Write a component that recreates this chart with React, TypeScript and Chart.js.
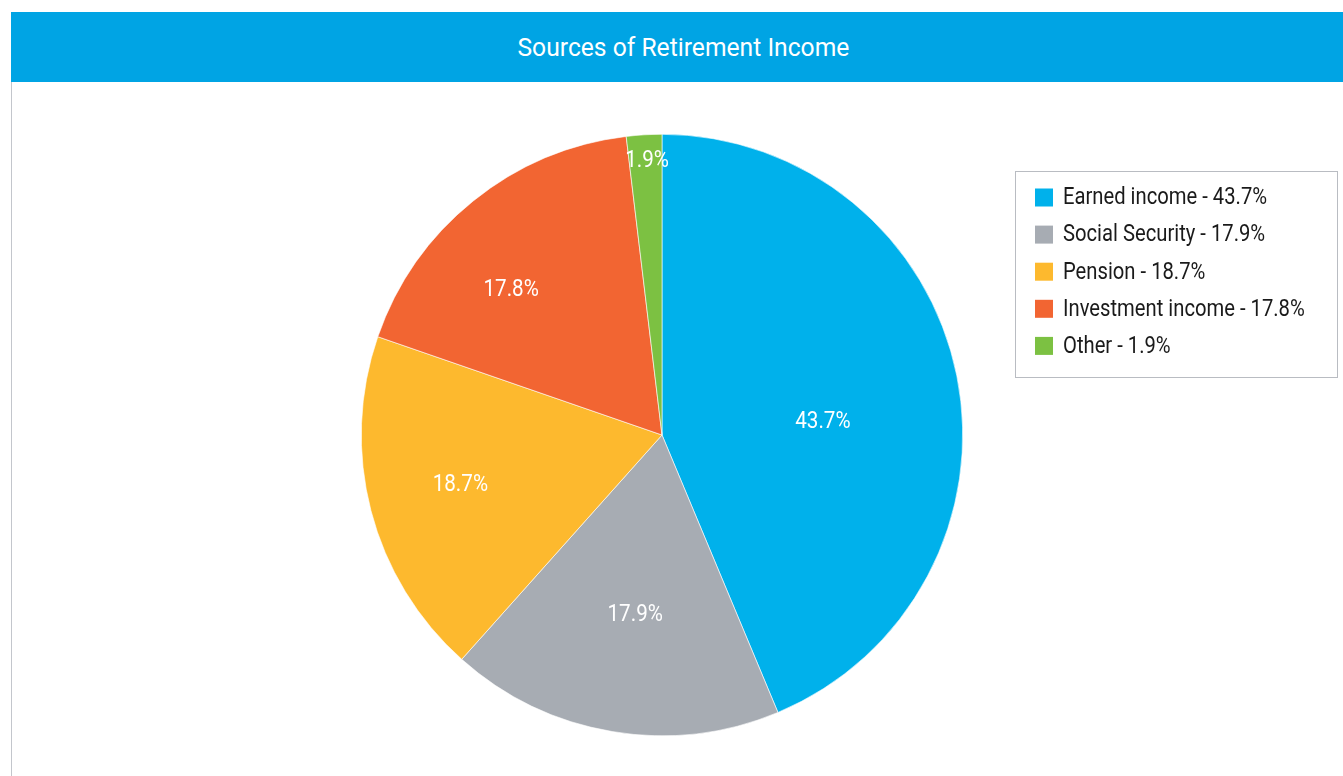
import React, { useEffect, useRef } from "react";
import { Chart, registerables } from "chart.js";

Chart.register(...registerables);

const categories = ["Earned income", "Social Security", "Pension", "Investment income", "Other"];
const values = [43.7, 17.9, 18.7, 17.8, 1.9];
const colors = ["#00b1eb", "#a7acb3", "#fdb92e", "#f26532", "#7cc142"];
const labelRadius = [0.537, 0.601, 0.69, 0.699, 0.915];
const labelAngleShift = [6.5, -1, 1, -7, 0.3];

const FONT = "'Roboto', 'Liberation Sans', sans-serif";
const SQUEEZE = 0.86;

const sliceLabels = {
  id: "sliceLabels",
  afterDatasetsDraw(chart: any) {
    const ctx = chart.ctx;
    const meta = chart.getDatasetMeta(0);
    meta.data.forEach((arc: any, i: number) => {
      const p = arc.getProps(["x", "y", "startAngle", "endAngle", "outerRadius"], true);
      const mid = (p.startAngle + p.endAngle) / 2 + (labelAngleShift[i] * Math.PI) / 180;
      const r = p.outerRadius * labelRadius[i];
      ctx.save();
      ctx.fillStyle = "#ffffff";
      ctx.font = `24px ${FONT}`;
      ctx.textAlign = "center";
      ctx.textBaseline = "middle";
      ctx.translate(p.x + Math.cos(mid) * r, p.y + Math.sin(mid) * r + 1);
      ctx.scale(SQUEEZE, 1);
      ctx.fillText(`${values[i]}%`, 0, 0);
      ctx.restore();
    });
  },
};

const boxLegend = {
  id: "boxLegend",
  afterDraw(chart: any, _args: any, opts: any) {
    const ctx = chart.ctx;
    ctx.save();
    ctx.strokeStyle = "#b9bcc2";
    ctx.lineWidth = 1;
    ctx.strokeRect(opts.x + 0.5, opts.y + 0.5, opts.w, opts.h);
    categories.forEach((c, i) => {
      const cy = opts.y + opts.first + i * opts.step;
      ctx.fillStyle = colors[i];
      ctx.fillRect(opts.x + 20, cy - 9, 18, 18);
      ctx.save();
      ctx.font = `23.5px ${FONT}`;
      ctx.textBaseline = "middle";
      ctx.textAlign = "left";
      ctx.fillStyle = "#1a1a1a";
      ctx.translate(opts.x + 48, cy + 1);
      ctx.scale(SQUEEZE, 1);
      ctx.fillText(`${c} - ${values[i]}%`, 0, 0);
      ctx.restore();
    });
    ctx.restore();
  },
};

export default function App() {
  const ref = useRef<HTMLCanvasElement | null>(null);
  useEffect(() => {
    if (!ref.current) return;
    const chart = new Chart(ref.current, {
      type: "pie",
      data: {
        labels: categories,
        datasets: [
          {
            data: values,
            backgroundColor: colors,
            borderColor: "#ffffff",
            borderWidth: 0.6,
          },
        ],
      },
      options: {
        animation: false,
        responsive: false,
        maintainAspectRatio: false,
        layout: { padding: { left: 349, right: 380, top: 52, bottom: 40 } },
        plugins: {
          legend: { display: false },
          tooltip: { enabled: false },
          boxLegend: { x: 1003, y: 89, w: 322, h: 206, first: 26.5, step: 37.1 },
        } as any,
      },
      plugins: [sliceLabels, boxLegend],
    });
    return () => chart.destroy();
  }, []);

  return (
    <div style={{ position: "fixed", left: 0, top: 0, width: 1343, height: 776, background: "#fff", overflow: "hidden" }}>
      <div
        style={{
          position: "absolute",
          left: 11,
          top: 12,
          width: 1332,
          height: 70,
          background: "#00a4e4",
          color: "#fff",
          font: `26.5px ${FONT}`,
          lineHeight: "70px",
          textAlign: "center",
          paddingLeft: 12,
          boxSizing: "border-box",
        }}
      >
        <span style={{ display: "inline-block", transform: "scaleX(0.93)" }}>Sources of Retirement Income</span>
      </div>
      <div style={{ position: "absolute", left: 11, top: 82, width: 1, height: 694, background: "#c3c6cc" }} />
      <canvas ref={ref} width={1331} height={694} style={{ position: "absolute", left: 12, top: 82, width: 1331, height: 694 }} />
    </div>
  );
}
